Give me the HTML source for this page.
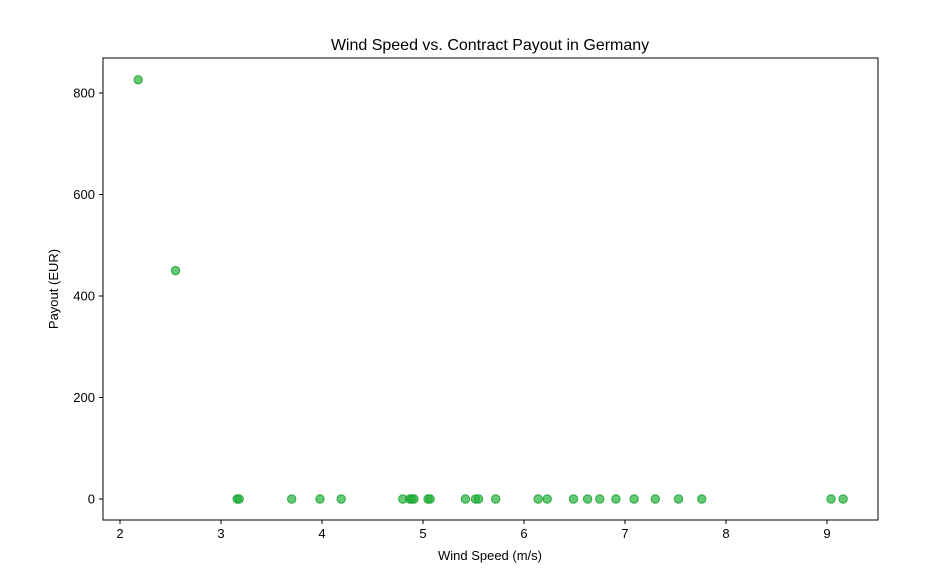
<!DOCTYPE html>
<html><head><meta charset="utf-8"><style>
body{margin:0;background:#fff;font-family:"Liberation Sans","DejaVu Sans",sans-serif;}
text{font-family:"Liberation Sans","DejaVu Sans",sans-serif;fill:#000;}
</style></head><body>
<svg id="chart" width="927" height="575" xmlns="http://www.w3.org/2000/svg">
<rect width="927" height="575" fill="#fff"/>
<text x="490" y="50" font-size="16" text-anchor="middle">Wind Speed vs. Contract Payout in Germany</text>
<g id="plot"></g>
<rect x="103" y="58" width="775" height="462" fill="none" stroke="#000" stroke-width="1"/>
<text x="490" y="560" font-size="13" text-anchor="middle">Wind Speed (m/s)</text>
<text transform="translate(58,289) rotate(-90)" font-size="13" text-anchor="middle">Payout (EUR)</text>
</svg>
<script>
const windSpeed=[2.18,2.55,3.16,3.18,3.70,3.98,4.19,4.80,4.87,4.89,4.91,5.05,5.07,5.42,5.52,5.55,5.72,6.14,6.23,6.49,6.63,6.75,6.91,7.09,7.30,7.53,7.76,9.04,9.16];
const payout=[826,450,0,0,0,0,0,0,0,0,0,0,0,0,0,0,0,0,0,0,0,0,0,0,0,0,0,0,0];
const xTicks=[2,3,4,5,6,7,8,9];
const yTicks=[0,200,400,600,800];
const NS="http://www.w3.org/2000/svg";
const xS=v=>120+(v-2)*101;
const yS=v=>499-v*0.5075;
const g=document.getElementById('plot');
function mk(t,a){const e=document.createElementNS(NS,t);for(const k in a)e.setAttribute(k,a[k]);return e;}
xTicks.forEach(t=>{
  const l=mk('line',{x1:xS(t),x2:xS(t),y1:520,y2:524,stroke:'#000'});
  
  
  g.appendChild(l);
  const tx=mk('text',{x:xS(t),y:538,'font-size':13,'text-anchor':'middle'});
  tx.textContent=t;
  
  
  g.appendChild(tx);
});
yTicks.forEach(t=>{
  const l=mk('line',{x1:99,x2:103,y1:yS(t),y2:yS(t),stroke:'#000'});
  
  
  g.appendChild(l);
  const tx=mk('text',{x:95,y:yS(t)+4.5,'font-size':13,'text-anchor':'end'});
  tx.textContent=t;
  
  
  g.appendChild(tx);
});
windSpeed.forEach((w,i)=>{
  const c=mk('circle',{cx:xS(w),cy:yS(payout[i]),r:4.2,fill:'#22b33a','fill-opacity':0.7,stroke:'#109a28','stroke-opacity':0.8,'stroke-width':1});
  
  
  g.appendChild(c);
});
</script>
</body></html>
